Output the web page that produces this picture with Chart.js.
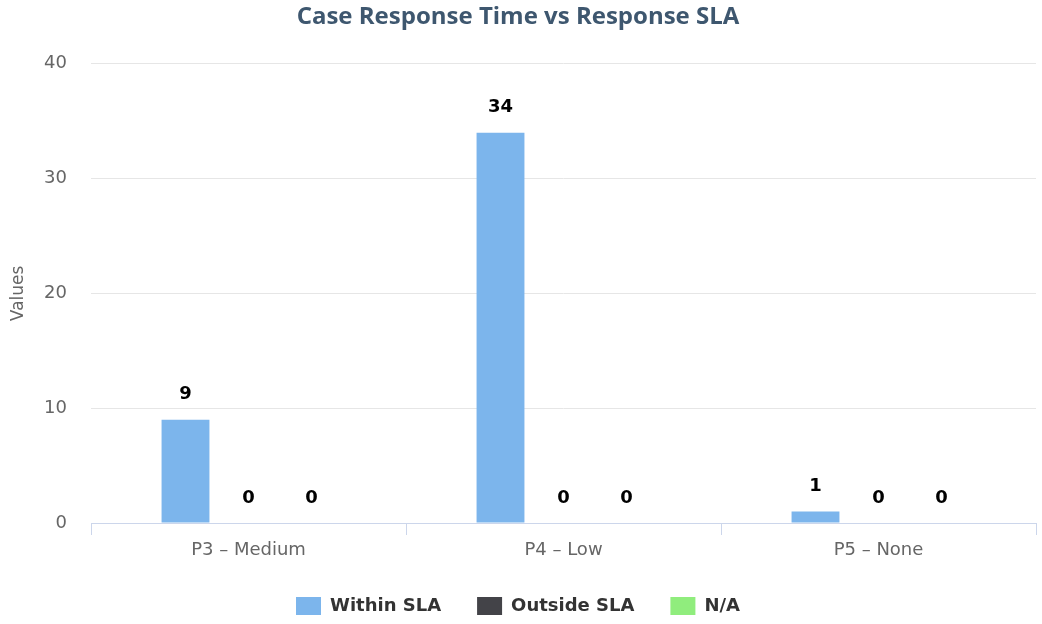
<!DOCTYPE html>
<html>
  <head>
    <title>Case Response Time vs Response SLA</title>
    <meta charset="utf-8">
    <script src="https://cdn.jsdelivr.net/npm/chart.js@4.4.1/dist/chart.umd.min.js"></script>
    <style>
      body { margin: 0; background: #fff; }
      #chartdiv { width: 1042px; height: 624px; }
    </style>
  </head>
  <body>
    <div id="chartdiv">
      <canvas id="myChart" width="1042" height="624"></canvas>
    </div>
    <script>
      // categories and series
      var categories = ['P3 \u2013 Medium', 'P4 \u2013 Low', 'P5 \u2013 None'];
      var withinSla  = [9, 34, 1];
      var outsideSla = [0, 0, 0];
      var notApplic  = [0, 0, 0];
      var yTicks     = [0, 10, 20, 30, 40];

      var titleFam = "'Open Sans', sans-serif";
      var fontFam  = "'DejaVu Sans', sans-serif";

      // draws the value above each bar (like highcharts dataLabels)
      var valueLabels = {
        id: 'valueLabels',
        afterDatasetsDraw: function(chart) {
          var ctx = chart.ctx;
          ctx.save();
          ctx.font = "bold 18px " + fontFam;
          ctx.fillStyle = '#000';
          ctx.textAlign = 'center';
          ctx.textBaseline = 'middle';
          chart.data.datasets.forEach(function(ds, i) {
            var meta = chart.getDatasetMeta(i);
            meta.data.forEach(function(bar, j) {
              ctx.fillText(ds.data[j], bar.x, bar.y - 25);
            });
          });
          ctx.restore();
        }
      };

      // legend gets wide spacing between items but stays low on the canvas
      var legendHeight = {
        id: 'legendHeight',
        beforeInit: function(chart) {
          var lg = chart.legend;
          if (!lg) return;
          var origFit = lg.fit;
          lg.fit = function() {
            origFit.call(this);
            this.height = 63;
          };
        }
      };

      var ctx = document.getElementById('myChart').getContext('2d');
      var myChart = new Chart(ctx, {
        type: 'bar',
        data: {
          labels: categories,
          datasets: [{
            label: 'Within SLA',
            backgroundColor: '#7cb5ec',
            data: withinSla
          }, {
            label: 'Outside SLA',
            backgroundColor: '#434348',
            data: outsideSla
          }, {
            label: 'N/A',
            backgroundColor: '#90ed7d',
            data: notApplic
          }]
        },
        plugins: [valueLabels, legendHeight],
        options: {
          responsive: false,
          animation: false,
          layout: { padding: { left: 0, right: 6, top: 0, bottom: 0 } },
          datasets: { bar: { categoryPercentage: 0.6, barPercentage: 0.76 } },
          plugins: {
            title: {
              display: true,
              text: 'Case Response Time vs Response SLA',
              color: '#3e576f',
              font: { family: titleFam, size: 24, weight: 'bold' },
              padding: { top: 3, bottom: 32 }
            },
            legend: {
              position: 'bottom',
              labels: {
                color: '#333',
                font: { family: fontFam, size: 18, weight: 'bold' },
                boxWidth: 25,
                boxHeight: 18,
                padding: 36
              }
            },
            tooltip: { enabled: false }
          },
          scales: {
            x: {
              grid: { display: true, drawOnChartArea: false, drawTicks: true, tickLength: 12, color: '#ccd6eb', offset: true },
              border: { color: '#ccd6eb' },
              ticks: { color: '#666', font: { family: fontFam, size: 18 }, padding: 5 },
              afterFit: function(scale) { scale.height = 38; }
            },
            y: {
              min: 0,
              max: 40,
              afterBuildTicks: function(scale) {
                scale.ticks = yTicks.map(function(v) { return { value: v }; });
              },
              grid: { color: '#e6e6e6', drawTicks: false },
              border: { display: false },
              ticks: { color: '#666', font: { family: fontFam, size: 18 }, padding: 24 },
              title: { display: true, text: 'Values', color: '#666', font: { family: fontFam, size: 17 }, padding: { top: 8, bottom: 0 } },
              afterFit: function(scale) { scale.width = 91; }
            }
          }
        }
      });
    </script>
  </body>
</html>
